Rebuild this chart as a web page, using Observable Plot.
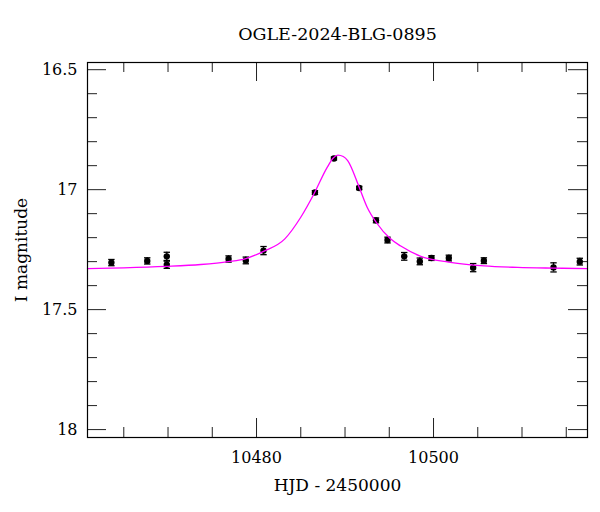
<!DOCTYPE html>
<html><head><meta charset="utf-8">
<script src="https://cdn.jsdelivr.net/npm/d3@7"></script>
<script src="https://cdn.jsdelivr.net/npm/@observablehq/plot@0.6"></script>
<style>body{margin:0;background:#fff}</style>
</head><body><div id="chart"></div>
<script>
const title = "OGLE-2024-BLG-0895";
const xLabel = "HJD - 2450000";
const yLabel = "I magnitude";

// observations
const obsHJD = [10463.6, 10467.65, 10469.86, 10469.86, 10476.84, 10478.79, 10480.79, 10486.6, 10488.75, 10491.6, 10493.5, 10494.8, 10496.69, 10498.45, 10499.77, 10501.73, 10504.48, 10505.69, 10513.56, 10516.53];
const obsMag = [17.304, 17.297, 17.278, 17.313, 17.289, 17.295, 17.254, 17.012, 16.870, 16.993, 17.128, 17.210, 17.278, 17.299, 17.285, 17.285, 17.325, 17.296, 17.324, 17.300];
const obsErr = [0.013, 0.013, 0.017, 0.015, 0.013, 0.014, 0.017, 0.008, 0.006, 0.007, 0.010, 0.012, 0.016, 0.014, 0.010, 0.012, 0.017, 0.012, 0.019, 0.014];

// model curve
const modelHJD = [10460.9, 10465.0, 10469.8, 10473.7, 10476.8, 10478.8, 10480.8, 10483.2, 10485.0, 10486.5, 10488.0, 10488.7, 10489.2, 10489.8, 10490.3, 10491.6, 10492.5, 10493.6, 10495.1, 10496.3, 10498.5, 10501.7, 10505.7, 10509.5, 10513.6, 10517.4];
const modelMag = [17.329, 17.326, 17.320, 17.312, 17.300, 17.287, 17.257, 17.205, 17.115, 17.017, 16.906, 16.867, 16.856, 16.862, 16.879, 16.990, 17.073, 17.140, 17.204, 17.235, 17.277, 17.302, 17.318, 17.324, 17.327, 17.329];

const xMajorTicks = [10480, 10500];
const xMinorTicks = [10465, 10470, 10475, 10485, 10490, 10495, 10505, 10510, 10515];
const yMajorTicks = [16.5, 17, 17.5, 18];
const yMinorTicks = [16.6, 16.7, 16.8, 16.9, 17.1, 17.2, 17.3, 17.4, 17.6, 17.7, 17.8, 17.9];
const xDomain = [10460.9, 10517.4];
const yDomain = [16.47, 18.033];

const obs = obsHJD.map((x, i) => ({hjd: x, mag: obsMag[i], err: obsErr[i]}));
const model = modelHJD.map((x, i) => ({hjd: x, mag: modelMag[i]}));

const W = 600, H = 512, mL = 87, mR = 13, mT = 62, mB = 75;
const fw = W - mL - mR, fh = H - mT - mB;
const major = 19, minor = 10;
const ink = "#222";

const capSymbol = {draw(ctx, size) { const r = Math.sqrt(size / Math.PI); ctx.moveTo(-r, 0); ctx.lineTo(r, 0); }};

const chart = Plot.plot({
  width: W, height: H,
  marginLeft: mL, marginRight: mR, marginTop: mT, marginBottom: mB,
  style: {fontFamily: "'DejaVu Serif', serif", fontSize: "16px", background: "white", color: "black"},
  x: {domain: xDomain},
  y: {domain: yDomain, reverse: true},
  marks: [
    // inward ticks
    Plot.tickX(xMajorTicks, {x: d => d, insetBottom: fh - major, stroke: ink}),
    Plot.tickX(xMajorTicks, {x: d => d, insetTop: fh - major, stroke: ink}),
    Plot.tickX(xMinorTicks, {x: d => d, insetBottom: fh - minor, stroke: ink}),
    Plot.tickX(xMinorTicks, {x: d => d, insetTop: fh - minor, stroke: ink}),
    Plot.tickY(yMajorTicks, {y: d => d, insetRight: fw - major, stroke: ink}),
    Plot.tickY(yMajorTicks, {y: d => d, insetLeft: fw - major, stroke: ink}),
    Plot.tickY(yMinorTicks, {y: d => d, insetRight: fw - minor, stroke: ink}),
    Plot.tickY(yMinorTicks, {y: d => d, insetLeft: fw - minor, stroke: ink}),
    Plot.axisX(xMajorTicks, {tickSize: 0, tickPadding: 14, tickFormat: d => String(d), label: null, fontSize: 16}),
    Plot.axisY(yMajorTicks, {tickSize: 0, tickPadding: 10, tickFormat: d => String(d), label: null, fontSize: 16}),
    // error bars
    Plot.ruleX(obs, {x: "hjd", y1: d => d.mag - d.err, y2: d => d.mag + d.err, stroke: "black", strokeWidth: 1.3}),
    Plot.dot(obs, {x: "hjd", y: d => d.mag - d.err, symbol: capSymbol, r: 3.2, stroke: "black", fill: "none", strokeWidth: 1.3}),
    Plot.dot(obs, {x: "hjd", y: d => d.mag + d.err, symbol: capSymbol, r: 3.2, stroke: "black", fill: "none", strokeWidth: 1.3}),
    Plot.dot(obs, {x: "hjd", y: "mag", r: 3.2, fill: "black", stroke: "none"}),
    // model
    Plot.line(model, {x: "hjd", y: "mag", stroke: "#ff00ff", strokeWidth: 1.3, curve: "monotone-x"}),
    Plot.frame({stroke: "black", strokeWidth: 1.2}),
    // labels
    Plot.text([title], {text: d => d, frameAnchor: "top", dy: -28, fontSize: 17.5, lineAnchor: "middle"}),
    Plot.text([xLabel], {text: d => d, frameAnchor: "bottom", dy: 48, fontSize: 17, lineAnchor: "middle"}),
    Plot.text([yLabel], {text: d => d, frameAnchor: "left", dx: -66, rotate: -90, fontSize: 17, textAnchor: "middle", lineAnchor: "middle"})
  ]
});
document.getElementById("chart").appendChild(chart);
</script>
</body></html>
